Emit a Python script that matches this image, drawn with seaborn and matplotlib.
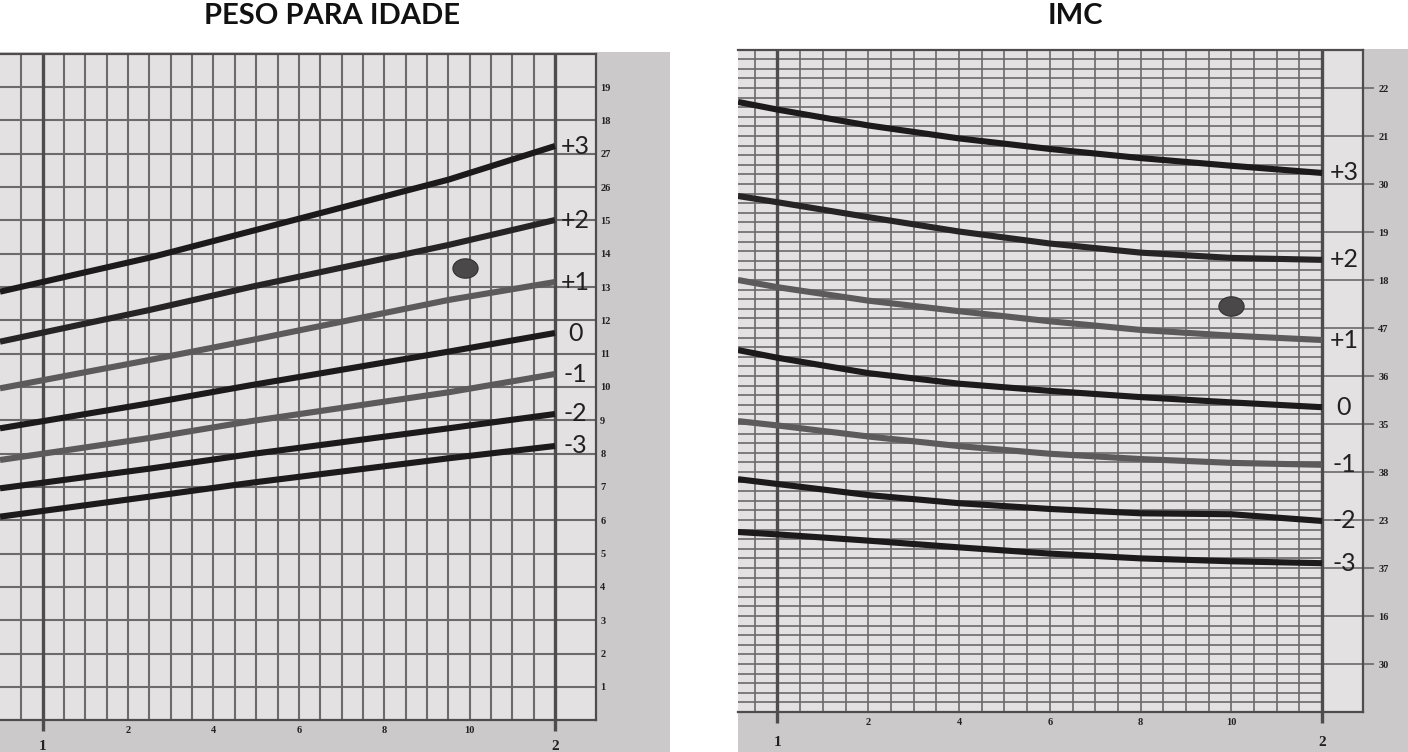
import numpy as np
import pandas as pd
import matplotlib
matplotlib.use("Agg")
import matplotlib.pyplot as plt
import seaborn as sns
from matplotlib.path import Path
from matplotlib.patches import Rectangle

# ---------------- data ----------------
z_labels = ["+3", "+2", "+1", "0", "-1", "-2", "-3"]

# Peso para idade (kg) by age in months
wfa_months = [11.0, 14.5, 16.9, 21.5, 24.0]
wfa_p3 = [12.86, 13.88, 14.68, 16.22, 17.23]
wfa_p2 = [11.36, 12.31, 13.01, 14.26, 15.01]
wfa_p1 = [9.96, 10.81, 11.41, 12.61, 13.15]
wfa_0 = [8.76, 9.51, 10.06, 11.06, 11.62]
wfa_m1 = [7.81, 8.47, 8.98, 9.84, 10.39]
wfa_m2 = [6.96, 7.55, 7.99, 8.76, 9.19]
wfa_m3 = [6.11, 6.71, 7.13, 7.86, 8.23]
wfa_point_month = [21.9]
wfa_point_value = [13.57]
wfa_ytick_vals = list(range(1, 20))
wfa_ytick_text = ["1", "2", "3", "4", "5", "6", "7", "8", "9", "10",
                  "11", "12", "13", "14", "15", "26", "27", "18", "19"]

# IMC by age in months
bmi_months = [11.13, 12, 14, 16, 18, 20, 22, 24]
bmi_p3 = [21.71, 21.55, 21.22, 20.95, 20.73, 20.54, 20.38, 20.23]
bmi_p2 = [19.75, 19.62, 19.31, 19.01, 18.76, 18.57, 18.46, 18.42]
bmi_p1 = [18.00, 17.85, 17.57, 17.35, 17.14, 16.96, 16.84, 16.75]
bmi_0 = [16.54, 16.38, 16.06, 15.84, 15.69, 15.56, 15.45, 15.35]
bmi_m1 = [15.06, 14.97, 14.74, 14.54, 14.38, 14.27, 14.19, 14.15]
bmi_m2 = [13.85, 13.75, 13.52, 13.35, 13.23, 13.14, 13.12, 12.98]
bmi_m3 = [12.75, 12.70, 12.57, 12.43, 12.30, 12.20, 12.14, 12.10]
bmi_point_month = [22.0]
bmi_point_value = [17.46]
bmi_ytick_vals = list(range(10, 23))
bmi_ytick_text = ["30", "16", "37", "23", "38", "35", "36", "47", "18",
                  "19", "30", "21", "22"]

xtick_months = [14, 16, 18, 20, 22]
xtick_text = ["2", "4", "6", "8", "10"]
year_months = [12, 24]
year_text = ["1", "2"]

titles = ["PESO PARA IDADE", "IMC"]

# ---------------- style ----------------
sns.set_theme(style="white")
plt.rcParams["font.family"] = ["Lato", "DejaVu Sans"]

W, H = 1408, 752
fig = plt.figure(figsize=(W / 100, H / 100), dpi=100)
fig.patch.set_facecolor("white")

PAPER = "#cbc9c9"
GRIDBG = "#e3e1e1"
GRIDC = "#6c6a6a"
HEAVY = "#4e4c4c"
BLACK = "#1c1a1a"
GRAY = "#5c5a5a"
palette = {"+3": BLACK, "+2": "#262424", "+1": GRAY, "0": BLACK,
           "-1": GRAY, "-2": BLACK, "-3": BLACK}


def paper(x0, y0, x1, y1):
    fig.patches.append(Rectangle((x0 / W, 1 - y1 / H), (x1 - x0) / W, (y1 - y0) / H,
                                 transform=fig.transFigure, facecolor=PAPER,
                                 edgecolor="none", zorder=-10))


paper(0, 52, 670, 752)
paper(738, 49, 1408, 752)


def make_df(months, series):
    rows = []
    for lab, vals in zip(z_labels, series):
        for m, v in zip(months, vals):
            rows.append({"month": m, "value": v, "z": lab})
    return pd.DataFrame(rows)


tt = np.linspace(0, 2 * np.pi, 60)
ellipse = Path(np.c_[1.3 * np.cos(tt), np.sin(tt)])


def panel(rect, xlim, ylim, hlines_minor, hlines_major, df, pm, pv, ytv, ytt,
          tick_len, grid_lw, title, title_x, year_y_off):
    ax = fig.add_axes(rect)
    ax.set_facecolor(GRIDBG)
    ax.set_xlim(*xlim)
    ax.set_ylim(*ylim)
    vx = [x for x in np.arange(11.0, 24.0, 0.5) if x not in (12.0, 24.0) and x > xlim[0]]
    ax.vlines(vx, ylim[0], ylim[1], color=GRIDC, lw=grid_lw, zorder=1)
    if hlines_minor:
        ax.hlines(hlines_minor, xlim[0], 24.0, color=GRIDC, lw=grid_lw, zorder=1)
    ax.hlines(hlines_major, xlim[0], xlim[1], color=GRIDC, lw=grid_lw, zorder=1)
    ax.vlines(year_months, ylim[0] - (ylim[1] - ylim[0]) * 0.016, ylim[1],
              color=HEAVY, lw=2.4, zorder=2, clip_on=False)
    sns.lineplot(data=df, x="month", y="value", hue="z", palette=palette,
                 linewidth=4.4, legend=False, ax=ax, zorder=5,
                 solid_capstyle="butt", solid_joinstyle="round",
                 estimator=None, sort=True)
    sns.scatterplot(x=pm, y=pv, marker=ellipse, s=330, color="#4a4848",
                    edgecolor="#333131", linewidth=0.8, ax=ax, zorder=6, legend=False)
    last = df.groupby("z", sort=False)["value"].last()
    for lab in z_labels:
        ax.text(24.48, last[lab], lab, ha="center", va="center", fontsize=18,
                color="#222020", zorder=7)
    ax.spines["left"].set_visible(False)
    for s in ["top", "right", "bottom"]:
        ax.spines[s].set_color(HEAVY)
        ax.spines[s].set_linewidth(1.6)
    ax.yaxis.tick_right()
    ax.set_yticks(ytv, ytt)
    ax.tick_params(axis="y", length=tick_len, width=1.2, color=GRIDC, pad=3,
                   labelsize=7.5, labelcolor="#222")
    for t in ax.get_yticklabels():
        t.set_fontfamily("Liberation Serif")
        t.set_fontweight("bold")
    ax.set_xticks(xtick_months, xtick_text)
    ax.tick_params(axis="x", length=0, pad=4, labelsize=7.5, labelcolor="#222")
    for t in ax.get_xticklabels():
        t.set_fontfamily("Liberation Serif")
        t.set_fontweight("bold")
    ax.set_xlabel("")
    ax.set_ylabel("")
    for m, t in zip(year_months, year_text):
        ax.annotate(t, (m, ylim[0]), xytext=(0, year_y_off), textcoords="offset pixels",
                    ha="center", va="center", fontsize=11, fontweight="bold",
                    family="Liberation Serif", color="#222", annotation_clip=False)
    fig.text(title_x / W, 1 - 16 / H, title, ha="center", va="center",
             fontsize=21, fontweight="bold", color="#111")
    return ax


wfa_df = make_df(wfa_months, [wfa_p3, wfa_p2, wfa_p1, wfa_0, wfa_m1, wfa_m2, wfa_m3])
bmi_df = make_df(bmi_months, [bmi_p3, bmi_p2, bmi_p1, bmi_0, bmi_m1, bmi_m2, bmi_m3])

# left panel: grid area px x 0..596, y 53.7..720.3
panel([0, (H - 720.3) / H, 596 / W, 666.6 / H], (11.0, 24.96), (0, 20),
      [], list(range(1, 20)), wfa_df, wfa_point_month, wfa_point_value,
      wfa_ytick_vals, wfa_ytick_text, 0, 1.5, titles[0], 332, -26)

# right panel: grid area px x 738..1363, y 49.6..712
minor = [round(v, 1) for v in np.arange(9.2, 22.8, 0.2) if abs(v - round(v)) > 1e-6]
panel([738 / W, (H - 712) / H, 625 / W, 662.4 / H], (11.13, 24.9), (9.0, 22.8),
      minor, list(range(10, 23)), bmi_df, bmi_point_month, bmi_point_value,
      bmi_ytick_vals, bmi_ytick_text, 8, 1.2, titles[1], 1075, -30)

fig.savefig("out.png", dpi=100, facecolor="white")
